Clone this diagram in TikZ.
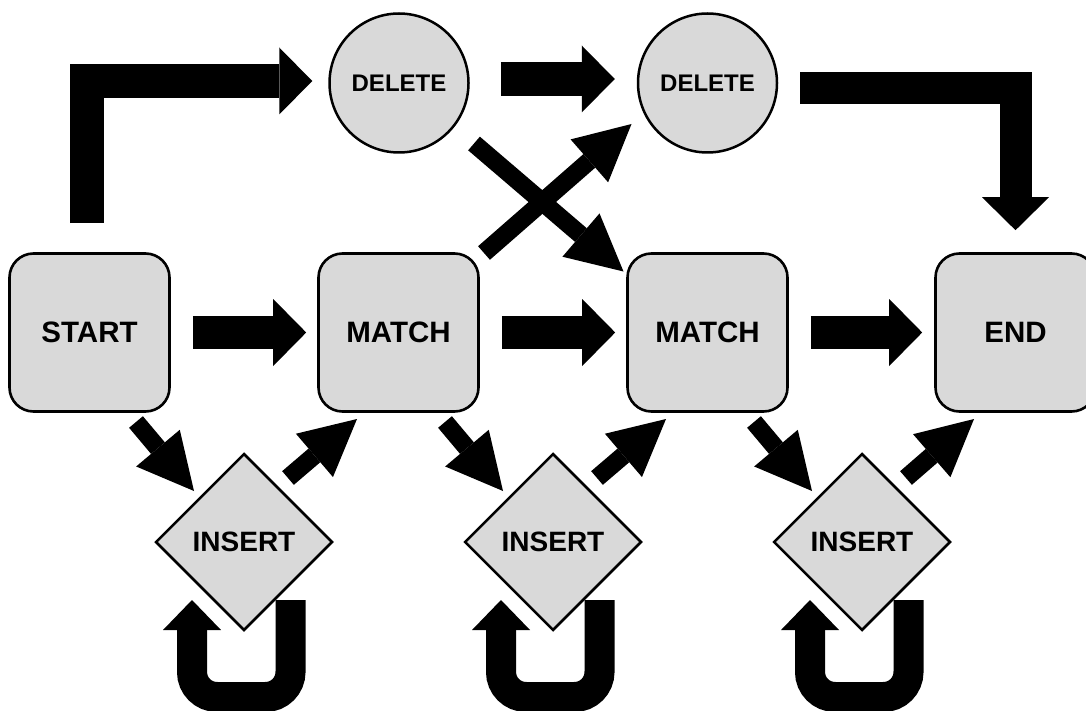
\documentclass[tikz,border=0pt]{standalone}
\usepackage{fontspec}
\setmainfont{Liberation Sans}
\usetikzlibrary{arrows.meta,calc,shapes.geometric,backgrounds}
\definecolor{nodefill}{HTML}{D9D9D9}
\begin{document}
\begin{tikzpicture}[x=1pt,y=-1pt,
  boxnode/.style={draw=black, line width=2.6pt, fill=nodefill, rounded corners=24pt,
    minimum width=160pt, minimum height=158pt, inner sep=0pt,
    font=\bfseries\fontsize{29.5}{30}\selectfont},
  delnode/.style={circle, draw=black, line width=2.5pt, fill=nodefill,
    minimum size=139pt, inner sep=0pt, font=\bfseries\fontsize{24}{26}\selectfont},
  insnode/.style={diamond, draw=black, line width=2.5pt, fill=nodefill,
    minimum width=177pt, minimum height=177pt, aspect=1, inner sep=0pt,
    font=\bfseries\fontsize{28}{30}\selectfont},
  bigarrow/.style={line width=33pt, -{Triangle[length=33pt,width=67pt,line width=0pt]}},
  diagarrow/.style={line width=18pt, -{Triangle[length=56pt,width=57pt,line width=0pt]}},
  looparrow/.style={line width=30pt, rounded corners=25pt,
    -{Triangle[length=30pt,width=58pt,line width=0pt]}},
]
\useasboundingbox (0,0) rectangle (1086,711);

% nodes
\node[boxnode] (start) at (89.5,332.5) {START};
\node[boxnode] (m1) at (398.5,332.5) {MATCH};
\node[boxnode] (m2) at (707.5,332.5) {MATCH};
\node[boxnode] (end) at (1015.5,332.5) {END};
\node[delnode] (d1) at (399,83) {DELETE};
\node[delnode] (d2) at (707.5,83) {DELETE};
\node[insnode] (i1) at (244,542) {INSERT};
\node[insnode] (i2) at (553,542) {INSERT};
\node[insnode] (i3) at (862,542) {INSERT};

\begin{scope}[on background layer]
  % main horizontal chain
  \draw[bigarrow, shorten <=22pt, shorten >=11pt] (start.east) -- (m1.west);
  \draw[bigarrow, shorten <=22pt, shorten >=11pt] (m1.east) -- (m2.west);
  \draw[bigarrow, shorten <=22pt, shorten >=12pt] (m2.east) -- (end.west);

  % start -> delete 1
  \coordinate (tl1) at ($(start.north)+(-3,-29)$);
  \coordinate (tl2) at ($(d1.west)+(-16,-2)$);
  \draw[bigarrow, line width=34pt] (tl1) |- (tl2);

  % delete 1 -> delete 2
  \coordinate (dd1) at ($(d1.east)+(31,-4)$);
  \coordinate (dd2) at ($(d2.west)+(-22,-4)$);
  \draw[bigarrow, line width=34pt] (dd1) -- (dd2);

  % delete 2 -> end
  \coordinate (tr1) at ($(d2.east)+(22,5)$);
  \coordinate (tr2) at ($(end.north)+(0,-22)$);
  \draw[bigarrow, line width=32pt] (tr1) -| (tr2);

  % crossing arrows
  \coordinate (ca1) at ($(m1.center)+(85.5,-79.5)$);
  \coordinate (ca2) at ($(d2.center)+(-76,41)$);
  \draw[diagarrow] (ca1) -- (ca2);
  \coordinate (cb1) at ($(d1.center)+(75,60.5)$);
  \coordinate (cb2) at ($(m2.center)+(-84,-61)$);
  \draw[diagarrow] (cb1) -- (cb2);

  % box -> insert -> next box
  \foreach \b/\d/\n in {start/i1/m1, m1/i2/m2, m2/i3/end} {
    \draw[diagarrow] ($(\b.center)+(46.5,89.5)$) -- ($(\d.center)+(-50,-51)$);
    \draw[diagarrow] ($(\d.center)+(44,-64)$) -- ($(\n.center)+(-41.5,86.5)$);
  }

  % insert self loops
  \foreach \d in {i1,i2,i3} {
    \draw[looparrow] ($(\d.center)+(46.5,58)$) -- ($(\d.center)+(46.5,155)$)
      -- ($(\d.center)+(-52,155)$) -- ($(\d.center)+(-52,58)$);
  }
\end{scope}
\end{tikzpicture}
\end{document}
